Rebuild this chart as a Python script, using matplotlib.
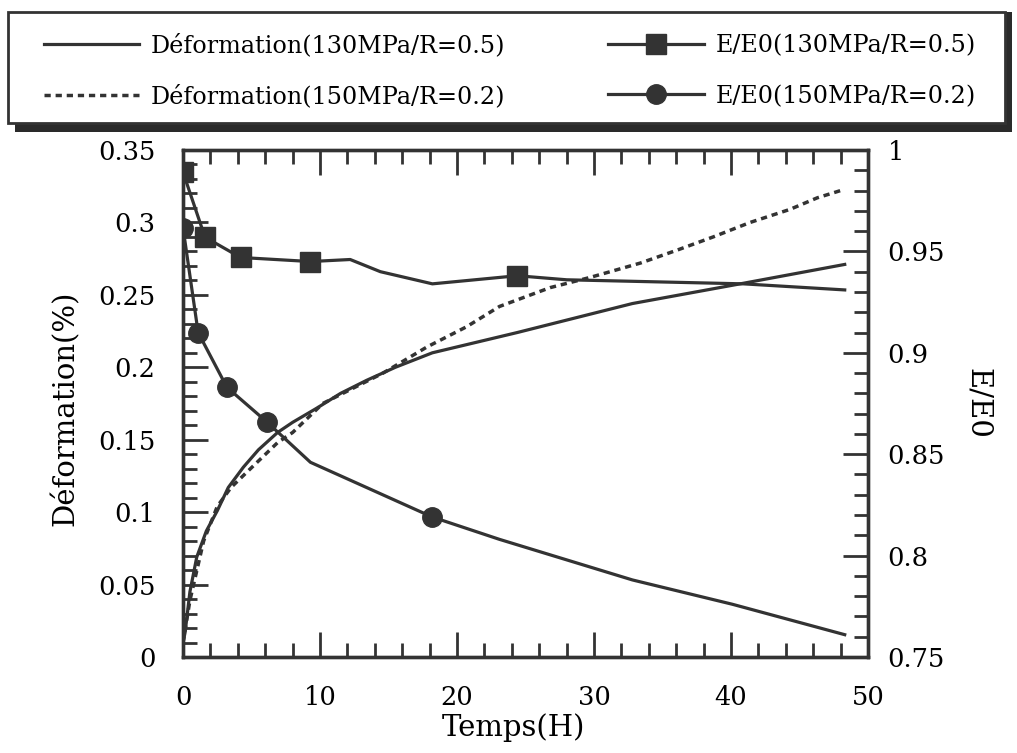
import matplotlib
matplotlib.use("Agg")
import matplotlib.pyplot as plt
from matplotlib.patches import Rectangle
from matplotlib.ticker import MultipleLocator

plt.rcParams['font.family'] = ['DejaVu Serif']
plt.rcParams['font.size'] = 17

# deformation 130MPa / R=0.5 (solid)
t_def130 = [0, 0.15, 0.5, 1.0, 1.7, 2.5, 3.3, 4.4, 5.5, 6.9, 8.0, 9.8, 11.5, 13.4,
            15.5, 18.2, 24.4, 32.8, 40.9, 48.3]
def130 = [0.01, 0.017, 0.045, 0.069, 0.087, 0.101, 0.117, 0.131, 0.143, 0.155, 0.162,
          0.172, 0.182, 0.191, 0.200, 0.210, 0.224, 0.244, 0.258, 0.271]

# deformation 150MPa / R=0.2 (dashed)
t_def150 = [0, 0.5, 1.5, 2.5, 3.5, 4.7, 6.9, 8.0, 10.2, 14.6, 17.8, 20.7, 23.1, 26.8, 29.7,
            33.4, 36.1, 38.7, 41.4, 44.3, 46.3, 48.0]
def150 = [0.01, 0.039, 0.080, 0.104, 0.117, 0.128, 0.148, 0.155, 0.175, 0.196, 0.214, 0.228,
          0.242, 0.255, 0.262, 0.272, 0.281, 0.290, 0.300, 0.309, 0.317, 0.322]

# E/E0 130MPa (squares)
t_e130 = [0, 1.6, 4.2, 9.3, 12.2, 14.4, 18.2, 24.4, 28.0, 40.9, 48.3]
e130 = [0.989, 0.957, 0.947, 0.945, 0.946, 0.940, 0.934, 0.938, 0.936, 0.934, 0.931]
t_e130_mk = [0, 1.6, 4.2, 9.3, 24.4]
e130_mk = [0.989, 0.957, 0.947, 0.945, 0.938]

# E/E0 150MPa (circles)
t_e150 = [0, 1.1, 3.2, 6.1, 9.3, 18.2, 23.1, 32.8, 40.1, 48.3]
e150 = [0.9615, 0.910, 0.883, 0.866, 0.846, 0.819, 0.808, 0.788, 0.776, 0.761]
t_e150_mk = [0, 1.1, 3.2, 6.1, 18.2]
e150_mk = [0.9615, 0.910, 0.883, 0.866, 0.819]

c = '#333333'
fig = plt.figure(figsize=(10.17, 7.53), dpi=100)
ax = fig.add_axes([0.18, 0.1275, 0.6735, 0.6733])
ax2 = ax.twinx()

l1, = ax.plot(t_def130, def130, color=c, lw=2.3, label='Déformation(130MPa/R=0.5)')
l2, = ax.plot(t_def150, def150, color=c, lw=2.5, dashes=(1.8, 1.4),
              label='Déformation(150MPa/R=0.2)')
ax2.plot(t_e130, e130, color=c, lw=2.3)
ax2.plot(t_e130_mk, e130_mk, 's', color=c, ms=14)
ax2.plot(t_e150, e150, color=c, lw=2.3)
ax2.plot(t_e150_mk, e150_mk, 'o', color=c, ms=14)
l3, = ax2.plot([], [], color=c, lw=2.3, marker='s', ms=14, label='E/E0(130MPa/R=0.5)')
l4, = ax2.plot([], [], color=c, lw=2.3, marker='o', ms=14, label='E/E0(150MPa/R=0.2)')

ax.set_xlim(0, 50)
ax.set_ylim(0, 0.35)
ax2.set_ylim(0.75, 1.0)
ax.xaxis.set_major_locator(MultipleLocator(10))
ax.xaxis.set_minor_locator(MultipleLocator(2))
ax.yaxis.set_minor_locator(MultipleLocator(0.01))
ax2.yaxis.set_minor_locator(MultipleLocator(0.01))
ax.set_yticks([0, 0.05, 0.1, 0.15, 0.2, 0.25, 0.3, 0.35])
ax.set_yticklabels(['0', '0.05', '0.1', '0.15', '0.2', '0.25', '0.3', '0.35'])
ax2.set_yticks([0.75, 0.8, 0.85, 0.9, 0.95, 1.0])
ax2.set_yticklabels(['0.75', '0.8', '0.85', '0.9', '0.95', '1'])

ax.tick_params(axis='x', which='both', direction='in', top=True, width=2, color=c,
               pad=20, labelsize=18.5)
ax.tick_params(axis='y', which='both', direction='in', right=False, width=2, color=c,
               pad=20, labelsize=18.5)
ax2.tick_params(axis='y', which='both', direction='in', width=2, color=c,
                pad=14, labelsize=18.5)
for a in (ax, ax2):
    a.tick_params(which='major', length=18)
    a.tick_params(which='minor', length=10)
    for s in a.spines.values():
        s.set_linewidth(2.4)
        s.set_color(c)

ax.set_xlabel('Temps(H)', fontsize=21, va='center')
ax.xaxis.set_label_coords(0.483, -0.140)
ax.set_ylabel('Déformation(%)', fontsize=21, va='center')
ax.yaxis.set_label_coords(-0.172, 0.49)
ax2.set_ylabel('E/E0', fontsize=21, rotation=-90, va='center')
ax2.yaxis.set_label_coords(1.16, 0.5)

# legend box with shadow
fig.patches.append(Rectangle((15 / 1017, 1 - 132 / 753), 997 / 1017, 120 / 753,
                             transform=fig.transFigure, facecolor='#2a2a2a', zorder=1))
fig.patches.append(Rectangle((8 / 1017, 1 - 123 / 753), 997 / 1017, 111 / 753,
                             transform=fig.transFigure, facecolor='white',
                             edgecolor=c, lw=2, zorder=2))
leg = fig.legend([l1, l2, l3, l4], [l.get_label() for l in (l1, l2, l3, l4)],
                 ncol=2, loc='upper left', bbox_to_anchor=(22 / 1017, 1 - 12 / 753),
                 frameon=False, handlelength=4.0, handletextpad=0.5,
                 columnspacing=4.3, labelspacing=1.15, fontsize=17.2)
leg.set_zorder(3)

fig.savefig('out.png', dpi=100)
